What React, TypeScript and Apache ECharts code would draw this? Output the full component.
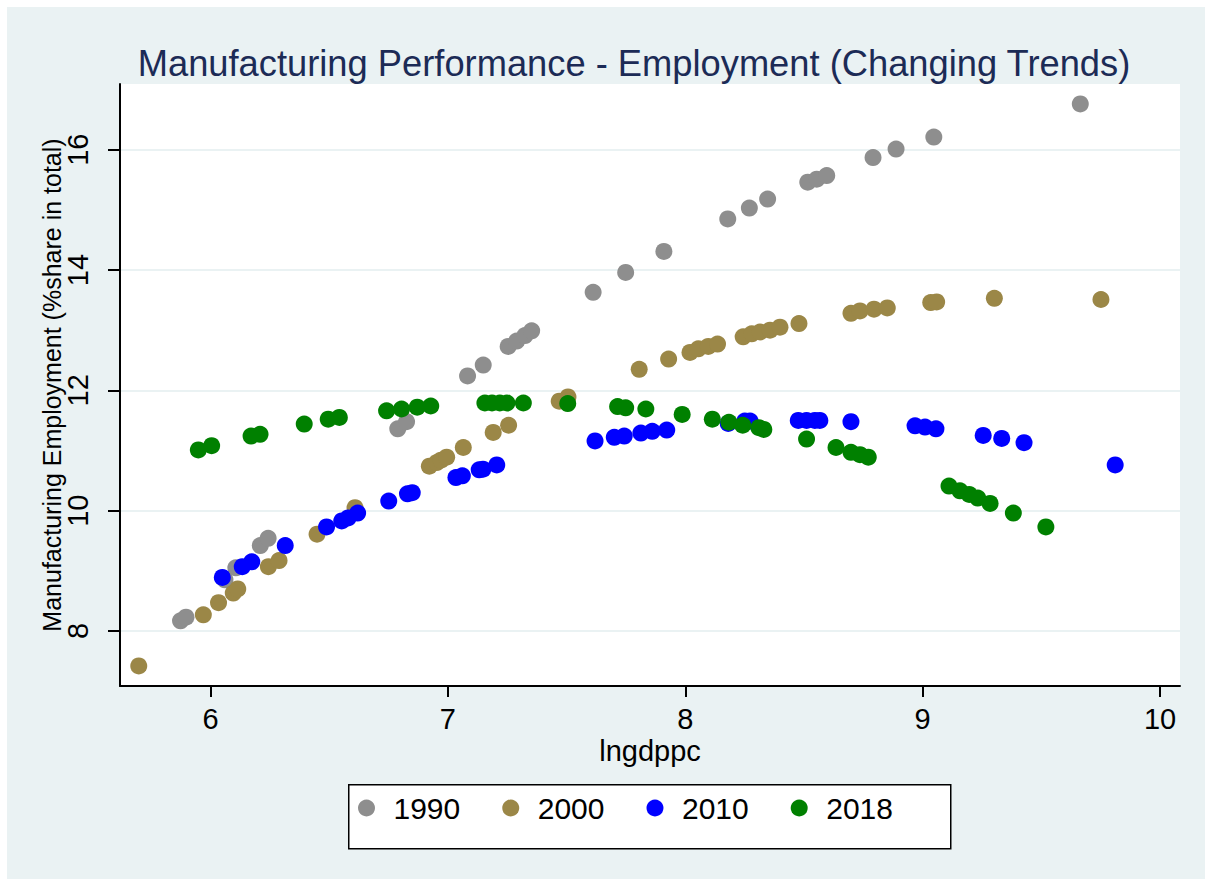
import React, { useEffect, useRef } from "react";
import * as echarts from "echarts";

const FONT = "'Liberation Sans', Arial, Helvetica, sans-serif";

const titleText = "Manufacturing Performance - Employment (Changing Trends)";
const xName = "lngdppc";
const yName = "Manufacturing Employment (%share in total)";

const years = ["1990", "2000", "2010", "2018"];
const colors = ["#8e8e8e", "#9b8747", "#0000ff", "#008000"];

const xTicks = [6, 7, 8, 9, 10];
const yTicks = [8, 10, 12, 14, 16];

// log GDP per capita (x) and manufacturing employment share (y), by year
const x1990 = [5.874, 5.897, 6.061, 6.107, 6.21, 6.243, 6.789, 6.826, 7.083, 7.149, 7.254, 7.29, 7.325, 7.353, 7.612, 7.749, 7.91, 8.179, 8.27, 8.347, 8.516, 8.554, 8.596, 8.791, 8.888, 9.047, 9.664];
const y1990 = [8.17, 8.23, 8.85, 9.05, 9.42, 9.54, 11.36, 11.48, 12.24, 12.42, 12.73, 12.82, 12.91, 12.99, 13.63, 13.96, 14.31, 14.85, 15.03, 15.18, 15.46, 15.51, 15.57, 15.87, 16.01, 16.21, 16.76];

const x2000 = [5.698, 5.97, 6.034, 6.096, 6.115, 6.244, 6.289, 6.449, 6.609, 6.922, 6.953, 6.971, 6.995, 7.065, 7.191, 7.256, 7.469, 7.506, 7.806, 7.93, 8.02, 8.055, 8.097, 8.136, 8.244, 8.28, 8.315, 8.357, 8.399, 8.479, 8.698, 8.736, 8.795, 8.851, 9.034, 9.059, 9.302, 9.751];
const y2000 = [7.42, 8.27, 8.47, 8.63, 8.7, 9.07, 9.17, 9.61, 10.05, 10.74, 10.8, 10.84, 10.89, 11.05, 11.3, 11.42, 11.82, 11.89, 12.35, 12.52, 12.63, 12.69, 12.73, 12.77, 12.89, 12.94, 12.97, 13.0, 13.05, 13.11, 13.28, 13.32, 13.35, 13.37, 13.46, 13.47, 13.53, 13.51];

const x2010 = [6.05, 6.134, 6.174, 6.315, 6.489, 6.553, 6.58, 6.62, 6.751, 6.83, 6.85, 7.034, 7.061, 7.132, 7.148, 7.206, 7.62, 7.701, 7.743, 7.813, 7.861, 7.922, 8.181, 8.251, 8.273, 8.476, 8.511, 8.546, 8.567, 8.698, 8.968, 9.01, 9.056, 9.255, 9.333, 9.427, 9.811];
const y2010 = [8.89, 9.07, 9.15, 9.42, 9.73, 9.83, 9.88, 9.96, 10.16, 10.28, 10.3, 10.55, 10.58, 10.68, 10.69, 10.76, 11.16, 11.22, 11.24, 11.29, 11.32, 11.34, 11.45, 11.49, 11.49, 11.5, 11.5, 11.5, 11.5, 11.48, 11.41, 11.39, 11.36, 11.25, 11.2, 11.13, 10.76];

const x2018 = [5.949, 6.005, 6.171, 6.209, 6.395, 6.496, 6.543, 6.742, 6.805, 6.871, 6.928, 7.156, 7.186, 7.219, 7.249, 7.318, 7.505, 7.715, 7.749, 7.834, 7.987, 8.114, 8.184, 8.242, 8.31, 8.331, 8.511, 8.635, 8.698, 8.736, 8.771, 9.111, 9.157, 9.196, 9.232, 9.284, 9.382, 9.519];
const y2018 = [11.01, 11.08, 11.24, 11.27, 11.44, 11.52, 11.55, 11.66, 11.69, 11.72, 11.74, 11.79, 11.79, 11.79, 11.79, 11.79, 11.78, 11.73, 11.71, 11.69, 11.6, 11.52, 11.47, 11.42, 11.38, 11.35, 11.19, 11.05, 10.97, 10.93, 10.89, 10.41, 10.33, 10.27, 10.21, 10.12, 9.96, 9.73];

const xs = [x1990, x2000, x2010, x2018];
const ys = [y1990, y2000, y2010, y2018];

export default function App() {
  const ref = useRef<HTMLDivElement>(null);

  useEffect(() => {
    document.body.style.margin = "0";
    if (!ref.current) return;
    const chart = echarts.init(ref.current, null, { renderer: "svg" });

    const series = years.map((yr, i) => ({
      name: yr,
      type: "scatter",
      symbol: "circle",
      symbolSize: 17,
      itemStyle: { color: colors[i], opacity: 1 },
      emphasis: { disabled: true },
      data: xs[i].map((x, j) => [x, ys[i][j]]),
      z: 2 + i,
    }));

    chart.setOption({
      animation: false,
      backgroundColor: "#eaf2f3",
      textStyle: { fontFamily: FONT },
      title: {
        text: titleText,
        left: 629,
        top: 40,
        textAlign: "center",
        textStyle: { fontFamily: FONT, fontSize: 36.3, fontWeight: "normal", color: "#1c2b56" },
      },
      graphic: [
        { type: "rect", left: 0, top: 0, shape: { width: 1205, height: 7 }, style: { fill: "#ffffff" }, silent: true },
        { type: "rect", left: 0, top: 0, shape: { width: 7, height: 879 }, style: { fill: "#ffffff" }, silent: true },
        {
          type: "rect",
          left: 348,
          top: 784,
          shape: { width: 602, height: 64 },
          style: { fill: "#ffffff", stroke: "#000000", lineWidth: 1.5 },
          silent: true,
        },
      ],
      legend: {
        data: years,
        left: 358,
        top: 792,
        padding: 0,
        itemWidth: 44,
        itemHeight: 17,
        itemGap: 42,
        icon: "circle",
        selectedMode: false,
        textStyle: { fontFamily: FONT, fontSize: 30, color: "#000", lineHeight: 32 },
        z: 10,
      },
      grid: {
        left: 120,
        top: 84,
        right: 25,
        bottom: 193,
        show: true,
        backgroundColor: "#ffffff",
        borderWidth: 0,
      },
      xAxis: {
        type: "value",
        min: 5.619,
        max: 10.084,
        name: xName,
        nameLocation: "middle",
        nameGap: 50,
        nameMoveOverlap: false,
        nameTextStyle: { fontFamily: FONT, fontSize: 29, color: "#000" },
        axisLine: { lineStyle: { color: "#000", width: 2 } },
        axisTick: { length: 11, customValues: xTicks, lineStyle: { color: "#000", width: 2 } },
        axisLabel: { customValues: xTicks, fontFamily: FONT, fontSize: 29, color: "#000", margin: 18 },
        splitLine: { show: false },
      },
      yAxis: {
        type: "value",
        min: 7.086,
        max: 17.092,
        name: yName,
        nameLocation: "middle",
        nameGap: 56,
        nameMoveOverlap: false,
        nameTextStyle: { fontFamily: FONT, fontSize: 25, color: "#000" },
        axisLine: { show: true, lineStyle: { color: "#000", width: 2 } },
        axisTick: { show: true, length: 12, customValues: yTicks, lineStyle: { color: "#000", width: 2 } },
        axisLabel: { customValues: yTicks, rotate: 90, fontFamily: FONT, fontSize: 29, color: "#000", margin: 28 },
        splitLine: { show: true, lineStyle: { color: "#eaf2f3", width: 2 } },
      },
      series,
    });

    return () => chart.dispose();
  }, []);

  return <div ref={ref} style={{ width: 1205, height: 879 }} />;
}
